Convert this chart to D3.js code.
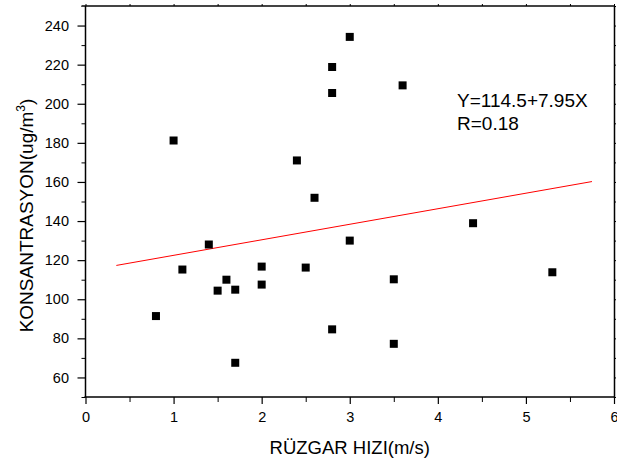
<!DOCTYPE html>
<html>
<head>
<meta charset="utf-8">
<script src="https://cdn.jsdelivr.net/npm/d3@7"></script>
<style>
  html, body { margin: 0; padding: 0; background: #fff; }
  svg { display: block; font-family: "Liberation Sans", Arial, sans-serif; }
</style>
</head>
<body>
<svg id="chart" width="617" height="464"></svg>
<script>
// ---- data ----
const windSpeed = [1.0, 2.4, 3.0, 2.8, 2.8, 3.6, 2.6, 4.4, 1.4, 1.1, 0.8, 1.5, 1.6, 1.7, 1.7, 2.0, 2.0, 2.5, 3.0, 3.5, 2.8, 3.5, 5.3];
const concentration = [181.2, 171.0, 234.2, 218.8, 205.5, 209.4, 151.9, 138.9, 128.0, 115.2, 91.4, 104.4, 110.0, 104.9, 67.5, 116.7, 107.5, 116.2, 130.0, 110.2, 84.6, 77.2, 113.8];
const fitX = [0.35, 5.75];
const fitY = [117.3, 160.2];
const xTicks = [0, 1, 2, 3, 4, 5, 6];
const xMinorTicks = [0.5, 1.5, 2.5, 3.5, 4.5, 5.5];
const yTicks = [60, 80, 100, 120, 140, 160, 180, 200, 220, 240];
const yMinorTicks = [50, 70, 90, 110, 130, 150, 170, 190, 210, 230, 250];
const equationLines = ["Y=114.5+7.95X", "R=0.18"];

// ---- layout ----
const svg = d3.select("#chart");
const L = 85.5, R = 614, T = 6, B = 397;
const x = d3.scaleLinear().domain([0, 6]).range([L, R]);
const y = d3.scaleLinear().domain([50, 250]).range([B, T]);

// minor ticks
svg.append("g").attr("transform", `translate(0,${B})`)
  .call(d3.axisBottom(x).tickValues(xMinorTicks).tickSize(5).tickFormat(""))
  .call(g => g.select(".domain").remove());
svg.append("g").attr("transform", `translate(${L},0)`)
  .call(d3.axisLeft(y).tickValues(yMinorTicks).tickSize(4).tickFormat(""))
  .call(g => g.select(".domain").remove());
// top & right (short ticks)
svg.append("g").attr("transform", `translate(0,${T})`)
  .call(d3.axisTop(x).tickValues(xTicks.concat(xMinorTicks)).tickSize(2).tickSizeOuter(0).tickFormat(""))
  .call(g => g.select(".domain").attr("stroke", "#444").attr("stroke-width", 2).attr("d", `M${L-4},0H${R}`));
svg.append("g").attr("transform", `translate(${R},0)`)
  .call(d3.axisRight(y).tickValues(yTicks.concat(yMinorTicks)).tickSize(2).tickSizeOuter(0).tickFormat(""))
  .call(g => g.select(".domain").attr("stroke-width", 1.5));

// major axes
const xAxis = svg.append("g").attr("transform", `translate(0,${B})`)
  .call(d3.axisBottom(x).tickValues(xTicks).tickSize(7).tickSizeOuter(0).tickPadding(7.5).tickFormat(d3.format("d")));
const yAxis = svg.append("g").attr("transform", `translate(${L},0)`)
  .call(d3.axisLeft(y).tickValues(yTicks).tickSize(8).tickSizeOuter(0).tickPadding(8.5).tickFormat(d3.format("d")));
[xAxis, yAxis].forEach(g => {
  g.select(".domain").attr("stroke-width", 1.5);
  g.selectAll(".tick line").attr("stroke-width", 1.2);
  g.selectAll("text").attr("font-size", 14.5).attr("fill", "#000")
    .attr("font-family", "'Liberation Sans', Arial, sans-serif");
});
// extend domain lines to meet
xAxis.select(".domain").attr("d", `M${L-1},0H${R}`);
yAxis.select(".domain").attr("d", `M0,${B}V${T}`);

// regression line
const line = d3.line().x((d, i) => x(fitX[i])).y(d => y(d));
svg.append("path").datum(fitY).attr("d", line)
  .attr("fill", "none").attr("stroke", "#ff0000").attr("stroke-width", 1);

// points
const sz = 8;
svg.append("g").selectAll("rect").data(windSpeed).join("rect")
  .attr("x", (d, i) => x(d) - sz / 2)
  .attr("y", (d, i) => y(concentration[i]) - sz / 2)
  .attr("width", sz).attr("height", sz).attr("fill", "#000");

// axis titles
svg.append("text").attr("x", (L + R) / 2).attr("y", 454)
  .attr("text-anchor", "middle").attr("font-size", 18.5).attr("fill", "#000")
  .text("RÜZGAR HIZI(m/s)");
const yt = svg.append("text").attr("transform", "translate(33,215.5) rotate(-90)")
  .attr("text-anchor", "middle").attr("font-size", 19).attr("fill", "#000");
yt.append("tspan").text("KONSANTRASYON(ug/m");
yt.append("tspan").attr("font-size", 12).attr("dy", -8).text("3");
yt.append("tspan").attr("dy", 8).text(")");

// equation annotation
svg.append("g").selectAll("text").data(equationLines).join("text")
  .attr("x", 457).attr("y", (d, i) => 107.3 + i * 22.7)
  .attr("font-size", 19).attr("fill", "#000").text(d => d);
</script>
</body>
</html>
